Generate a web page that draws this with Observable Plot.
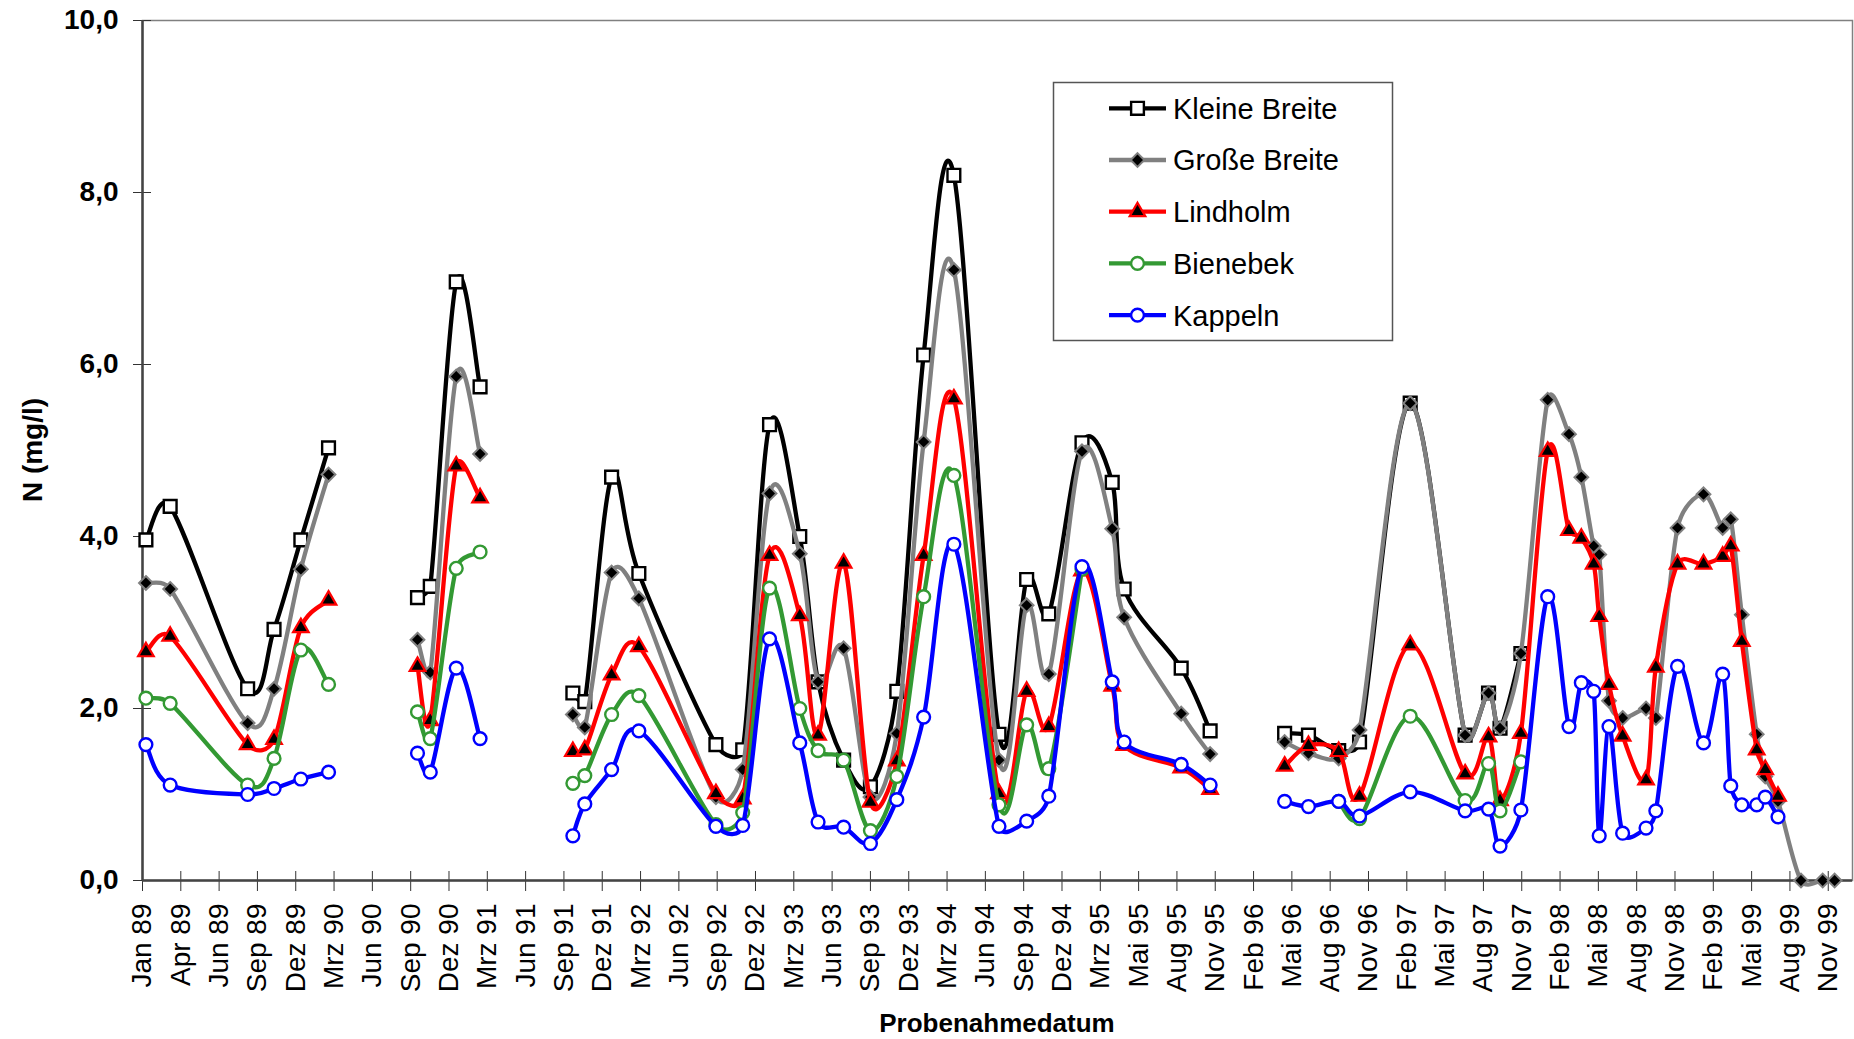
<!DOCTYPE html>
<html><head><meta charset="utf-8">
<script src="https://cdn.jsdelivr.net/npm/d3@7"></script>
<script src="https://cdn.jsdelivr.net/npm/@observablehq/plot@0.6"></script>
<style>html,body{margin:0;padding:0;background:#fff}#chart svg{display:block}</style>
</head><body><div id="chart"></div>
<script>
// ---- data ----
const dates = [
  "1989-01-09","1989-03-07","1989-09-05","1989-11-06","1990-01-08","1990-03-14",
  "1990-10-09","1990-11-08","1991-01-08","1991-03-05",
  "1991-10-09","1991-11-06","1992-01-08","1992-03-12","1992-09-09","1992-11-11","1993-01-13","1993-03-25","1993-05-07","1993-07-06","1993-09-07","1993-11-08","1994-01-10","1994-03-22","1994-07-06","1994-09-09","1994-10-31","1995-01-17","1995-03-29","1995-04-26","1995-09-07","1995-11-14",
  "1996-05-07","1996-07-02","1996-09-11","1996-10-30","1997-02-26","1997-07-05","1997-08-29","1997-09-25","1997-11-13","1998-01-15","1998-03-06","1998-04-04","1998-05-03","1998-05-16","1998-06-08","1998-07-10","1998-09-03","1998-09-26","1998-11-16","1999-01-16","1999-03-02","1999-03-21","1999-04-16","1999-05-21","1999-06-10","1999-07-10","1999-09-02","1999-10-23","1999-11-20"
];
const segment = [
  1,1,1,1,1,1,
  2,2,2,2,
  3,3,3,3,3,3,3,3,3,3,3,3,3,3,3,3,3,3,3,3,3,3,
  4,4,4,4,4,4,4,4,4,4,4,4,4,4,4,4,4,4,4,4,4,4,4,4,4,4,4,4,4
];
const kleineBreite = [
  3.96,4.35,2.23,2.92,3.96,5.03,
  3.29,3.42,6.96,5.74,
  2.18,2.08,4.69,3.57,1.58,1.52,5.30,4.00,2.31,1.40,1.09,2.20,6.11,8.20,1.70,3.50,3.10,5.09,4.63,3.39,2.47,1.74,
  1.71,1.69,1.51,1.61,5.55,1.69,2.18,1.77,2.64,null,null,null,null,null,null,null,null,null,null,null,null,null,null,null,null,null,null,null,null
];
const grosseBreite = [
  3.46,3.39,1.83,2.23,3.62,4.72,
  2.80,2.42,5.86,4.96,
  1.93,1.78,3.58,3.28,0.97,1.29,4.50,3.80,2.31,2.70,0.97,1.71,5.10,7.10,1.40,3.20,2.40,4.99,4.09,3.06,1.94,1.47,
  1.61,1.48,1.42,1.75,5.55,1.69,2.18,1.77,2.64,5.59,5.19,4.69,3.89,3.79,2.09,1.89,2.00,1.89,4.10,4.49,4.10,4.20,3.09,1.70,1.21,0.92,0,0,0
];
const lindholm = [
  2.66,2.84,1.58,1.64,2.94,3.26,
  2.49,1.86,4.82,4.45,
  1.50,1.52,2.39,2.72,1.01,0.95,3.78,3.08,1.69,3.69,0.91,1.39,3.78,5.60,1.01,2.20,1.79,3.60,2.26,1.57,1.31,1.06,
  1.33,1.57,1.50,0.98,2.74,1.24,1.67,0.93,1.71,4.99,4.07,3.98,3.68,3.07,2.28,1.68,1.17,2.48,3.68,3.68,3.77,3.89,2.78,1.52,1.29,0.98,null,null,null
];
const bienebek = [
  2.12,2.06,1.11,1.42,2.68,2.28,
  1.96,1.65,3.63,3.82,
  1.13,1.22,1.93,2.15,0.65,0.79,3.40,2.00,1.51,1.40,0.58,1.21,3.30,4.71,0.88,1.81,1.30,3.62,null,null,null,null,
  null,null,0.92,0.72,1.91,0.93,1.36,0.81,1.38,null,null,null,null,null,null,null,null,null,null,null,null,null,null,null,null,null,null,null,null
];
const kappeln = [
  1.58,1.11,1.00,1.07,1.18,1.26,
  1.48,1.26,2.47,1.65,
  0.52,0.89,1.29,1.74,0.63,0.64,2.81,1.60,0.68,0.62,0.43,0.94,1.90,3.91,0.63,0.69,0.98,3.65,2.31,1.61,1.35,1.11,
  0.92,0.86,0.92,0.75,1.03,0.81,0.83,0.40,0.82,3.30,1.79,2.30,2.20,0.52,1.79,0.55,0.61,0.81,2.49,1.60,2.40,1.10,0.88,0.88,0.97,0.74,null,null,null
];
const seriesNames = ["Kleine Breite","Große Breite","Lindholm","Bienebek","Kappeln"];
const tickLabels = ["Jan 89","Apr 89","Jun 89","Sep 89","Dez 89","Mrz 90","Jun 90","Sep 90","Dez 90","Mrz 91","Jun 91","Sep 91","Dez 91","Mrz 92","Jun 92","Sep 92","Dez 92","Mrz 93","Jun 93","Sep 93","Dez 93","Mrz 94","Jun 94","Sep 94","Dez 94","Mrz 95","Mai 95","Aug 95","Nov 95","Feb 96","Mai 96","Aug 96","Nov 96","Feb 97","Mai 97","Aug 97","Nov 97","Feb 98","Mai 98","Aug 98","Nov 98","Feb 99","Mai 99","Aug 99","Nov 99"];
const tickStepDays = 90;
const yTicks = [0,2,4,6,8,10];
const yTickLabels = ["0,0","2,0","4,0","6,0","8,0","10,0"];
const xLabel = "Probenahmedatum";
const yLabel = "N (mg/l)";

// ---- spreadsheet-style smoothing curve (Bezier, tangent = (next - prev)/6, limited to half the segment) ----
function SmoothCurve(context) { this._context = context; }
SmoothCurve.prototype = {
  areaStart() { this._line = 0; },
  areaEnd() { this._line = NaN; },
  lineStart() { this._pts = []; },
  point(x, y) { this._pts.push([+x, +y]); },
  lineEnd() {
    const p = this._pts, n = p.length, c = this._context;
    if (!n) return;
    c.moveTo(p[0][0], p[0][1]);
    if (n === 1) { c.lineTo(p[0][0], p[0][1]); return; }
    const f = 1 / 6;
    const tangent = (i, segLen) => {
      const a = p[Math.max(0, i - 1)], b = p[Math.min(n - 1, i + 1)];
      let tx = (b[0] - a[0]) * f, ty = (b[1] - a[1]) * f;
      const len = Math.hypot(tx, ty), lim = segLen * 0.5;
      if (len > lim && len > 0) { tx *= lim / len; ty *= lim / len; }
      return [tx, ty];
    };
    for (let i = 0; i < n - 1; i++) {
      const P1 = p[i], P2 = p[i + 1];
      const seg = Math.hypot(P2[0] - P1[0], P2[1] - P1[1]);
      const t1 = tangent(i, seg), t2 = tangent(i + 1, seg);
      c.bezierCurveTo(P1[0] + t1[0], P1[1] + t1[1], P2[0] - t2[0], P2[1] - t2[1], P2[0], P2[1]);
    }
  }
};
const smoothCurve = context => new SmoothCurve(context);

// ---- build ----
const FONT = "'Liberation Sans', Arial, sans-serif";
const t0 = Date.UTC(1989,0,1);
const tickDates = tickLabels.map((_, i) => new Date(t0 + i*tickStepDays*864e5));
const tickMap = new Map(tickDates.map((d, i) => [+d, tickLabels[i]]));
const yMap = new Map(yTicks.map((v, i) => [v, yTickLabels[i]]));
const rows = dates.map((d, i) => ({date: new Date(d + "T00:00:00Z"), seg: segment[i], i}));

const styles = [
  {values: kleineBreite, color: "#000000", width: 4.3, symbol: "square",   r: 7.2, fill: "#ffffff", mstroke: "#000000", msw: 2.4},
  {values: grosseBreite, color: "#808080", width: 4.3, symbol: "diamond2", r: 6.2, fill: "#000000", mstroke: "#808080", msw: 2},
  {values: lindholm,     color: "#ff0000", width: 4.3, symbol: "triangle", r: 5.8, fill: "#000000", mstroke: "#ff0000", msw: 2.2},
  {values: bienebek,     color: "#339933", width: 4.3, symbol: "circle",   r: 6.4, fill: "#ffffff", mstroke: "#339933", msw: 2.4},
  {values: kappeln,      color: "#0000ff", width: 4.3, symbol: "circle",   r: 6.4, fill: "#ffffff", mstroke: "#0000ff", msw: 2.4}
];

const seriesMarks = styles.flatMap(s => [
  Plot.line(rows, {x: "date", y: r => s.values[r.i], z: "seg", stroke: s.color, strokeWidth: s.width, curve: smoothCurve}),
  Plot.dot(rows.filter(r => s.values[r.i] != null), {x: "date", y: r => s.values[r.i], symbol: s.symbol, r: s.r, fill: s.fill, stroke: s.mstroke, strokeWidth: s.msw})
]);

const plot = Plot.plot({
  width: 1854, height: 1039,
  marginLeft: 142, marginRight: 2, marginTop: 20, marginBottom: 159,
  style: {fontFamily: FONT, background: "#ffffff", color: "#000000", overflow: "visible"},
  x: {type: "utc", domain: [new Date(t0), new Date(Date.UTC(2000,0,1))]},
  y: {domain: [0, 10]},
  marks: [
    Plot.frame({stroke: "#808080", strokeWidth: 1.5}),
    Plot.axisX(tickDates, {tickFormat: d => tickMap.get(+d), tickRotate: -90, tickSize: 11, tickPadding: 12, fontSize: 28, stroke: "#333", label: null}),
    Plot.axisY(yTicks, {tickFormat: d => yMap.get(d), tickSize: 9, tickPadding: 15, fontSize: 28, fontWeight: "bold", stroke: "#333", label: null}),
    Plot.ruleY([0], {stroke: "#444", strokeWidth: 2.5}),
    Plot.ruleX([new Date(t0)], {stroke: "#444", strokeWidth: 2.5}),
    ...seriesMarks
  ]
});

const svg = d3.select(plot);
svg.selectAll('g[aria-label="x-axis tick"] path').attr("d", "M0,-9L0,11");
svg.selectAll('g[aria-label="y-axis tick"] path').attr("d", "M-9,0L9,0");

// axis titles
svg.append("text").attr("x", 997).attr("y", 1032).attr("text-anchor", "middle")
  .attr("font-family", FONT).attr("font-size", 26).attr("font-weight", "bold").attr("fill", "#000").text(xLabel);
svg.append("text").attr("transform", "translate(42,450) rotate(-90)").attr("text-anchor", "middle")
  .attr("font-family", FONT).attr("font-size", 28).attr("font-weight", "bold").attr("fill", "#000").text(yLabel);

// legend
const symMap = {square: d3.symbolSquare, diamond2: d3.symbolDiamond2, triangle: d3.symbolTriangle, circle: d3.symbolCircle};
const leg = svg.append("g").attr("font-family", FONT).attr("font-size", 29).attr("text-anchor", "start");
leg.append("rect").attr("x", 1053.5).attr("y", 82.5).attr("width", 339).attr("height", 258)
  .attr("fill", "#fff").attr("stroke", "#555").attr("stroke-width", 1.5);
styles.forEach((s, k) => {
  const cy = 108.3 + k * 51.7;
  leg.append("line").attr("x1", 1109).attr("x2", 1166).attr("y1", cy).attr("y2", cy)
    .attr("stroke", s.color).attr("stroke-width", s.width);
  leg.append("path").attr("transform", `translate(1137.5,${cy})`)
    .attr("d", d3.symbol(symMap[s.symbol], Math.PI * s.r * s.r)())
    .attr("fill", s.fill).attr("stroke", s.mstroke).attr("stroke-width", s.msw);
  leg.append("text").attr("x", 1173).attr("y", cy).attr("dy", "0.36em").attr("fill", "#000").text(seriesNames[k]);
});

document.getElementById("chart").appendChild(plot);
</script>
</body></html>
